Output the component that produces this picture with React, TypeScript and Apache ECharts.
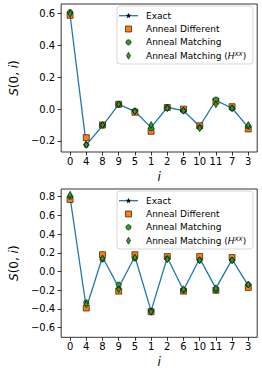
import React, { useEffect, useRef } from "react";
import * as echarts from "echarts";

const sites = ["0", "4", "8", "9", "5", "1", "2", "6", "10", "11", "7", "3"];

const exactTop = [0.59, -0.225, -0.105, 0.03, -0.015, -0.115, 0.01, -0.01, -0.108, 0.055, 0.005, -0.115];
const diffTop = [0.59, -0.18, -0.1, 0.03, -0.02, -0.14, 0.01, 0.0, -0.105, 0.05, 0.015, -0.125];
const matchTop = [0.61, -0.225, -0.1, 0.03, -0.01, -0.12, 0.01, -0.01, -0.115, 0.06, 0.005, -0.11];
const hxxTop = [0.6, -0.225, -0.1, 0.03, -0.015, -0.1, 0.005, -0.01, -0.12, 0.03, 0.005, -0.1];

const exactBot = [0.79, -0.39, 0.155, -0.17, 0.16, -0.42, 0.15, -0.2, 0.14, -0.18, 0.13, -0.15];
const diffBot = [0.77, -0.39, 0.18, -0.21, 0.18, -0.43, 0.16, -0.21, 0.16, -0.2, 0.15, -0.17];
const matchBot = [0.8, -0.33, 0.13, -0.14, 0.14, -0.42, 0.14, -0.2, 0.12, -0.2, 0.12, -0.14];
const hxxBot = [0.82, -0.35, 0.14, -0.19, 0.15, -0.43, 0.13, -0.19, 0.12, -0.18, 0.12, -0.14];

const yTicksTop = [-0.2, 0.0, 0.2, 0.4, 0.6];
const yTicksBot = [-0.6, -0.4, -0.2, 0.0, 0.2, 0.4, 0.6, 0.8];

const seriesNames = ["Exact", "Anneal Different", "Anneal Matching", "Anneal Matching (H^XX)"];

const STAR = "path://M0,-10 L2.35,-3.24 9.51,-3.09 3.8,1.24 5.88,8.09 0,4 -5.88,8.09 -3.8,1.24 -9.51,-3.09 -2.35,-3.24Z";
const FONT = "DejaVu Sans";

const fmt = (v: number) => {
  const s = Math.abs(v).toFixed(1);
  return v < -1e-9 ? "\u2212" + s : s;
};

const pairs = (arr: number[]) => arr.map((v, i) => [i, v]);

function starPoints(cx: number, cy: number, r: number) {
  const pts: number[][] = [];
  for (let k = 0; k < 10; k++) {
    const rr = k % 2 === 0 ? r : r * 0.4;
    const a = -Math.PI / 2 + (k * Math.PI) / 5;
    pts.push([cx + rr * Math.cos(a), cy + rr * Math.sin(a)]);
  }
  return pts;
}

function legendGraphic(top: number) {
  const left = 117;
  const rows = [9.7, 23, 36.3, 49.7].map((d) => top + d);
  const mx = 128.5;
  const tx = 146;
  const textStyle = { font: `9px '${FONT}'`, fill: "#000", verticalAlign: "middle" as const, align: "left" as const };
  return [
    {
      type: "rect",
      shape: { x: left, y: top, width: 136, height: 58, r: 3 },
      style: { fill: "rgba(255,255,255,0.85)", stroke: "#cccccc", lineWidth: 0.8 },
      z: 100,
    },
    { type: "line", shape: { x1: 119, y1: rows[0], x2: 138, y2: rows[0] }, style: { stroke: "#1f77b4", lineWidth: 1.3 }, z: 101 },
    { type: "polygon", shape: { points: starPoints(mx, rows[0], 3) }, style: { fill: "#000" }, z: 102 },
    { type: "rect", shape: { x: mx - 3, y: rows[1] - 3, width: 6, height: 6 }, style: { fill: "#ff7f0e", stroke: "#000", lineWidth: 0.6 }, z: 101 },
    { type: "circle", shape: { cx: mx, cy: rows[2], r: 2.6 }, style: { fill: "#2ca02c", stroke: "#000", lineWidth: 0.6 }, z: 101 },
    {
      type: "polygon",
      shape: { points: [[mx, rows[3] - 3.5], [mx + 2, rows[3]], [mx, rows[3] + 3.5], [mx - 2, rows[3]]] },
      style: { fill: "#2ca02c", stroke: "#000", lineWidth: 0.6 },
      z: 101,
    },
    { type: "text", x: tx, y: rows[0], style: { ...textStyle, text: "Exact" }, z: 101 },
    { type: "text", x: tx, y: rows[1], style: { ...textStyle, text: "Anneal Different" }, z: 101 },
    { type: "text", x: tx, y: rows[2], style: { ...textStyle, text: "Anneal Matching" }, z: 101 },
    {
      type: "text",
      x: tx,
      y: rows[3],
      style: {
        ...textStyle,
        text: "Anneal Matching ({h|H}{s|XX})",
        rich: {
          h: { fontFamily: FONT, fontSize: 9, fontStyle: "italic", fill: "#000" },
          s: { fontFamily: FONT, fontSize: 6, fontStyle: "italic", fill: "#000", verticalAlign: "top", padding: [0, 0, 5, 0] },
        },
      },
      z: 101,
    },
  ];
}

function makeSeries(gi: number, exact: number[], diff: number[], match: number[], hxx: number[]) {
  return [
    {
      name: seriesNames[0],
      type: "line",
      xAxisIndex: gi,
      yAxisIndex: gi,
      data: pairs(exact),
      symbol: STAR,
      symbolSize: 6,
      itemStyle: { color: "#000" },
      lineStyle: { color: "#1f77b4", width: 1.3 },
      z: 2,
    },
    {
      name: seriesNames[1],
      type: "scatter",
      xAxisIndex: gi,
      yAxisIndex: gi,
      data: pairs(diff),
      symbol: "rect",
      symbolSize: 6,
      itemStyle: { color: "#ff7f0e", borderColor: "#000", borderWidth: 0.6, opacity: 1 },
      z: 3,
    },
    {
      name: seriesNames[2],
      type: "scatter",
      xAxisIndex: gi,
      yAxisIndex: gi,
      data: pairs(match),
      symbol: "circle",
      symbolSize: 5.2,
      itemStyle: { color: "#2ca02c", borderColor: "#000", borderWidth: 0.6, opacity: 1 },
      z: 4,
    },
    {
      name: seriesNames[3],
      type: "scatter",
      xAxisIndex: gi,
      yAxisIndex: gi,
      data: pairs(hxx),
      symbol: "diamond",
      symbolSize: [4, 7],
      itemStyle: { color: "#2ca02c", borderColor: "#000", borderWidth: 0.6, opacity: 1 },
      z: 5,
    },
  ];
}

function xAxis(gi: number) {
  const vals = sites.map((_, i) => i);
  return {
    type: "value",
    gridIndex: gi,
    position: "bottom",
    min: -0.55,
    max: 11.55,
    name: "{i|i}",
    nameLocation: "middle",
    nameGap: 19,
    nameTextStyle: { rich: { i: { fontFamily: FONT, fontStyle: "italic", fontSize: 12, color: "#000" } } },
    axisLine: { show: false, onZero: false },
    splitLine: { show: false },
    axisTick: { show: true, inside: false, length: 3.5, customValues: vals, lineStyle: { color: "#000", width: 0.8 } },
    axisLabel: {
      customValues: vals,
      margin: 4,
      fontFamily: FONT,
      fontSize: 10,
      color: "#000",
      formatter: (v: number) => sites[Math.round(v)] ?? "",
    },
  };
}

function yAxis(gi: number, min: number, max: number, ticks: number[]) {
  return {
    type: "value",
    gridIndex: gi,
    position: "left",
    min,
    max,
    name: "{i|S}(0, {i|i})",
    nameLocation: "middle",
    nameRotate: 90,
    nameGap: 27,
    nameTextStyle: {
      fontFamily: FONT,
      fontSize: 12,
      color: "#000",
      rich: { i: { fontFamily: FONT, fontStyle: "italic", fontSize: 12, color: "#000" } },
    },
    axisLine: { show: false, onZero: false },
    splitLine: { show: false },
    axisTick: { show: true, inside: false, length: 3.5, customValues: ticks, lineStyle: { color: "#000", width: 0.8 } },
    axisLabel: {
      customValues: ticks,
      margin: 6,
      fontFamily: FONT,
      fontSize: 10,
      color: "#000",
      formatter: (v: number) => fmt(v),
    },
  };
}

export default function App() {
  const ref = useRef<HTMLDivElement>(null);
  useEffect(() => {
    if (!ref.current) return;
    const chart = echarts.init(ref.current, null, { renderer: "svg" });
    chart.setOption({
      animation: false,
      backgroundColor: "#fff",
      grid: [
        { left: 45.6, top: 4, width: 211.6, height: 148, show: true, borderColor: "#000", borderWidth: 0.8, backgroundColor: "transparent" },
        { left: 45.6, top: 189, width: 211.6, height: 148.3, show: true, borderColor: "#000", borderWidth: 0.8, backgroundColor: "transparent" },
      ],
      xAxis: [xAxis(0), xAxis(1)],
      yAxis: [yAxis(0, -0.27, 0.661, yTicksTop), yAxis(1, -0.703, 0.882, yTicksBot)],
      series: [...makeSeries(0, exactTop, diffTop, matchTop, hxxTop), ...makeSeries(1, exactBot, diffBot, matchBot, hxxBot)],
      graphic: [...legendGraphic(6), ...legendGraphic(191)],
    });
    return () => chart.dispose();
  }, []);
  return <div ref={ref} style={{ position: "fixed", left: 0, top: 0, width: 262, height: 370 }} />;
}
